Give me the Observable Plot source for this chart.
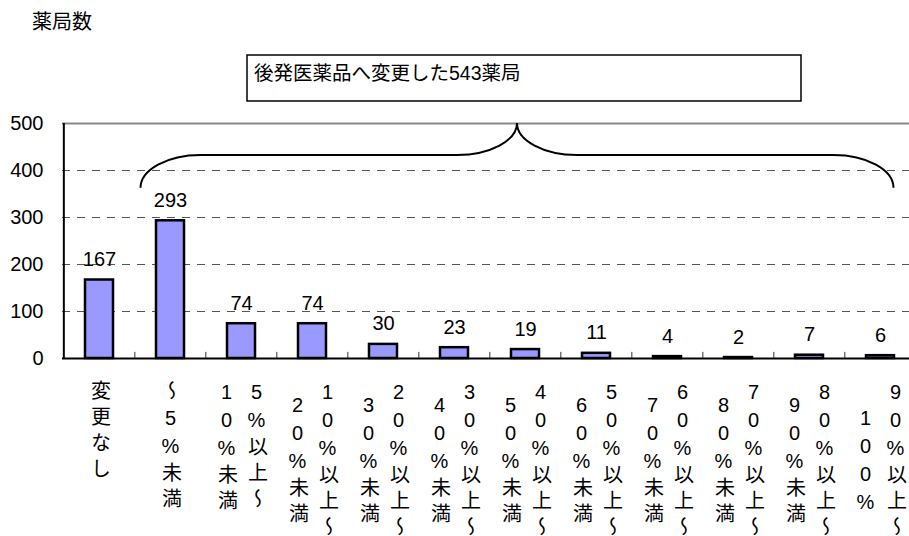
<!DOCTYPE html>
<html><head><meta charset="utf-8">
<script src="https://cdn.jsdelivr.net/npm/d3@7"></script>
<script src="https://cdn.jsdelivr.net/npm/@observablehq/plot@0.6"></script>
<style>
body{margin:0;background:#fff;}
#chart{width:909px;height:536px;}
</style></head><body><div id="chart"></div>
<script>
const categories = ["変更なし","～5%未満","5%以上～10%未満","10%以上～20%未満","20%以上～30%未満","30%以上～40%未満","40%以上～50%未満","50%以上～60%未満","60%以上～70%未満","70%以上～80%未満","80%以上～90%未満","90%以上～100%"];
const values = [167,293,74,74,30,23,19,11,4,2,7,6];
const yTicks = [0,100,200,300,400,500];
const gridTicks = [100,200,300,400];
const yTitle = "薬局数";
const annotation = "後発医薬品へ変更した543薬局";
const braceFrom = "～5%未満";
const braceTo = "90%以上～100%";
const braceEndValue = 362, braceLevelValue = 432, braceTipValue = 500;

const FONT = '"Liberation Sans", "Noto Sans CJK JP", sans-serif';
const LABEL_INK = "#010101";
const data = categories.map((c, i) => ({category: c, value: values[i]}));

// split each category label into vertical columns (right column first, as in vertical Japanese)
const columns = [];
categories.forEach(c => {
  const k = c.indexOf("～");
  const cols = k > 0 ? [c.slice(0, k + 1), c.slice(k + 1)] : [c];
  const L = Math.max(...cols.map(s => s.length));
  cols.forEach((s, j) => columns.push({
    category: c, text: s,
    side: cols.length === 1 ? 0 : (j === 0 ? 1 : -1),
    shift: (L - s.length) / 2
  }));
});

const step = (918 - 62) / categories.length;
const lineStep = 26;

const labelMarks = columns.map(d => Plot.text([d], {
  x: "category", text: "text", frameAnchor: "bottom",
  textAnchor: "start", lineAnchor: "top",
  dx: d.side * 15, dy: 8 + d.shift * lineStep,
  fontSize: 20, fill: LABEL_INK
}));

const plot = Plot.plot({
  width: 909, height: 536,
  marginTop: 123, marginBottom: 178, marginLeft: 62, marginRight: 0,
  style: {fontFamily: FONT, background: "white", color: "black"},
  x: {domain: categories, range: [62, 918], paddingInner: 0.6, paddingOuter: 0.3, axis: null},
  y: {domain: [0, 500], axis: null},
  marks: [
    Plot.ruleY(gridTicks, {stroke: "#555", strokeWidth: 1.2, strokeDasharray: "8,7"}),
    Plot.ruleY([500], {stroke: "#888", strokeWidth: 2}),
    Plot.ruleX(categories.slice(1), {x: d => d, dx: -step / 2, y1: () => 0, y2: () => 13, stroke: "#333", strokeWidth: 1}),
    Plot.barY(data, {x: "category", y: "value", fill: "#9999FF", stroke: "black", strokeWidth: 2.5}),
    Plot.ruleY([0], {stroke: "black", strokeWidth: 2}),
    Plot.ruleX([categories[0]], {x: d => d, dx: -step / 2, y1: () => 0, y2: () => 500, stroke: "black", strokeWidth: 2}),
    Plot.axisY(yTicks, {tickSize: 0, tickPadding: 19, fontSize: 20, label: null}),
    Plot.text(data, {x: "category", y: "value", text: d => String(d.value), lineAnchor: "bottom", dy: -14, fontSize: 20, fill: "black"}),
    ...labelMarks
  ]
});

document.getElementById("chart").appendChild(plot);

const svg = d3.select(plot);
// vertical writing for the category labels
svg.selectAll("g").filter(function() { return this.getAttribute("fill") === LABEL_INK; })
  .selectAll("text")
  .attr("writing-mode", "vertical-rl")
  .style("writing-mode", "vertical-rl")
  .style("text-orientation", "upright")
  .style("letter-spacing", "6px");

// title, annotation box and brace, positioned with the plot's own scales
const xs = plot.scale("x"), ys = plot.scale("y");
svg.append("text").attr("x", 32).attr("y", 29).attr("text-anchor", "start").attr("font-size", 20).attr("fill", "black").text(yTitle);
svg.append("rect").attr("x", 247).attr("y", 55).attr("width", 554).attr("height", 46)
  .attr("fill", "white").attr("stroke", "black").attr("stroke-width", 1.5);
svg.append("text").attr("x", 254).attr("y", 80).attr("text-anchor", "start").attr("font-size", 19.5).attr("fill", "black").text(annotation);

const bw = xs.bandwidth, st = xs.step;
const xa = xs.apply(braceFrom) - (st - bw) / 2 + 6;
const xb = xs.apply(braceTo) + bw + (st - bw) / 2 - 22;
const xm = (xa + xb) / 2;
const yE = ys.apply(braceEndValue), yL = ys.apply(braceLevelValue), yT = ys.apply(braceTipValue);
const rx = 60, ryE = yE - yL, ryT = yL - yT;
const path = `M${xa},${yE} A${rx},${ryE} 0 0 1 ${xa + rx},${yL} L${xm - rx},${yL} A${rx},${ryT} 0 0 0 ${xm},${yT} A${rx},${ryT} 0 0 0 ${xm + rx},${yL} L${xb - rx},${yL} A${rx},${ryE} 0 0 1 ${xb},${yE}`;
svg.append("path").attr("d", path).attr("fill", "none").attr("stroke", "black").attr("stroke-width", 2);
</script>
</body></html>
